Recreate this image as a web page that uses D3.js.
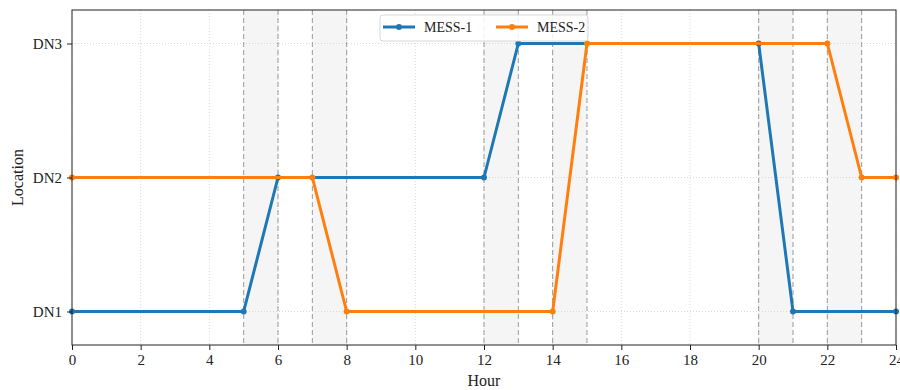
<!DOCTYPE html>
<html>
<head>
<meta charset="utf-8">
<script src="https://cdn.jsdelivr.net/npm/d3@7"></script>
<style>
  body { margin: 0; background: #fff; }
  svg { font-family: "Liberation Serif", "DejaVu Serif", serif; }
</style>
</head>
<body>
<div id="chart"></div>
<script>
// data
const locations = ["DN1", "DN2", "DN3"];
const hourTicks = [0, 2, 4, 6, 8, 10, 12, 14, 16, 18, 20, 22, 24];
const mess1Hours = [0, 5, 6, 12, 13, 20, 21, 24];
const mess1Loc = ["DN1", "DN1", "DN2", "DN2", "DN3", "DN3", "DN1", "DN1"];
const mess2Hours = [0, 7, 8, 14, 15, 22, 23, 24];
const mess2Loc = ["DN2", "DN2", "DN1", "DN1", "DN3", "DN3", "DN2", "DN2"];
const moveStart = [5, 7, 12, 14, 20, 22];
const moveEnd = [6, 8, 13, 15, 21, 23];

const width = 900, height = 390;
const margin = { top: 10, right: 4, bottom: 45, left: 72 };

const svg = d3.select("#chart").append("svg")
  .attr("width", width)
  .attr("height", height);

const x = d3.scaleLinear().domain([0, 24]).range([margin.left, width - margin.right]);
const locIndex = d => locations.indexOf(d) + 1;
const y = d3.scaleLinear().domain([0.75, 3.25]).range([height - margin.bottom, margin.top]);

// shaded travel windows
const windows = moveStart.map((s, i) => ({ s, e: moveEnd[i] }));
svg.append("g").selectAll("rect").data(windows).join("rect")
  .attr("x", d => x(d.s))
  .attr("y", margin.top)
  .attr("width", d => x(d.e) - x(d.s))
  .attr("height", y(0.75) - margin.top)
  .attr("fill", "#f5f5f5");

// grid
const grid = svg.append("g").attr("stroke", "#cfcfcf").attr("stroke-width", 0.8).attr("stroke-dasharray", "1,2");
grid.selectAll(".gx").data(hourTicks).join("line")
  .attr("x1", d => x(d)).attr("x2", d => x(d))
  .attr("y1", margin.top).attr("y2", y(0.75));
grid.selectAll(".gy").data(locations).join("line")
  .attr("x1", margin.left).attr("x2", width - margin.right)
  .attr("y1", d => y(locIndex(d))).attr("y2", d => y(locIndex(d)));

// dashed window edges
const edges = Array.from(new Set(moveStart.concat(moveEnd)));
svg.append("g").selectAll("line").data(edges).join("line")
  .attr("x1", d => x(d)).attr("x2", d => x(d))
  .attr("y1", margin.top).attr("y2", y(0.75))
  .attr("stroke", "#9a9a9a")
  .attr("stroke-width", 1)
  .attr("stroke-dasharray", "5,3");

// series
const series = [
  { name: "MESS-1", color: "#1f77b4", pts: mess1Hours.map((h, i) => [h, locIndex(mess1Loc[i])]) },
  { name: "MESS-2", color: "#ff7f0e", pts: mess2Hours.map((h, i) => [h, locIndex(mess2Loc[i])]) }
];

const line = d3.line().x(d => x(d[0])).y(d => y(d[1]));
series.forEach(s => {
  const g = svg.append("g");
  g.append("path")
    .attr("d", line(s.pts))
    .attr("fill", "none")
    .attr("stroke", s.color)
    .attr("stroke-width", 3)
    .attr("stroke-linejoin", "round");
  g.selectAll("circle").data(s.pts).join("circle")
    .attr("cx", d => x(d[0]))
    .attr("cy", d => y(d[1]))
    .attr("r", 3)
    .attr("fill", s.color);
});

// frame
svg.append("rect")
  .attr("x", margin.left).attr("y", margin.top)
  .attr("width", x(24) - margin.left).attr("height", y(0.75) - margin.top)
  .attr("fill", "none").attr("stroke", "#222").attr("stroke-width", 1);

// axes
const xAxis = svg.append("g")
  .attr("transform", `translate(0,${y(0.75)})`)
  .call(d3.axisBottom(x).tickValues(hourTicks).tickSize(5).tickPadding(4).tickFormat(d3.format("d")));
xAxis.select(".domain").remove();
xAxis.selectAll("text").attr("font-size", 15).attr("fill", "#222").attr("font-family", "Liberation Serif");
xAxis.selectAll("line").attr("stroke", "#222");

const yAxis = svg.append("g")
  .attr("transform", `translate(${margin.left},0)`)
  .call(d3.axisLeft(y).tickValues([1, 2, 3]).tickSize(5).tickPadding(5).tickFormat(d => locations[d - 1]));
yAxis.select(".domain").remove();
yAxis.selectAll("text").attr("font-size", 15).attr("fill", "#222").attr("font-family", "Liberation Serif");
yAxis.selectAll("line").attr("stroke", "#222");

svg.append("text")
  .attr("x", (margin.left + width - margin.right) / 2 + 0)
  .attr("y", 386)
  .attr("text-anchor", "middle")
  .attr("font-size", 16)
  .attr("fill", "#222")
  .text("Hour");

svg.append("text")
  .attr("transform", `translate(23,${(margin.top + y(0.75)) / 2}) rotate(-90)`)
  .attr("text-anchor", "middle")
  .attr("font-size", 16)
  .attr("fill", "#222")
  .text("Location");

// legend
const lg = svg.append("g").attr("transform", "translate(380,15)");
lg.append("rect")
  .attr("width", 208).attr("height", 26).attr("rx", 3)
  .attr("fill", "#fff").attr("fill-opacity", 0.85)
  .attr("stroke", "#d8d8d8");
series.forEach((s, i) => {
  const ox = 3 + i * 113;
  lg.append("line")
    .attr("x1", ox).attr("x2", ox + 32).attr("y1", 12).attr("y2", 12)
    .attr("stroke", s.color).attr("stroke-width", 3);
  lg.append("circle").attr("cx", ox + 16).attr("cy", 12).attr("r", 3).attr("fill", s.color);
  lg.append("text")
    .attr("x", ox + 41).attr("y", 17)
    .attr("font-size", 14).attr("fill", "#222")
    .text(s.name);
});
</script>
</body>
</html>
